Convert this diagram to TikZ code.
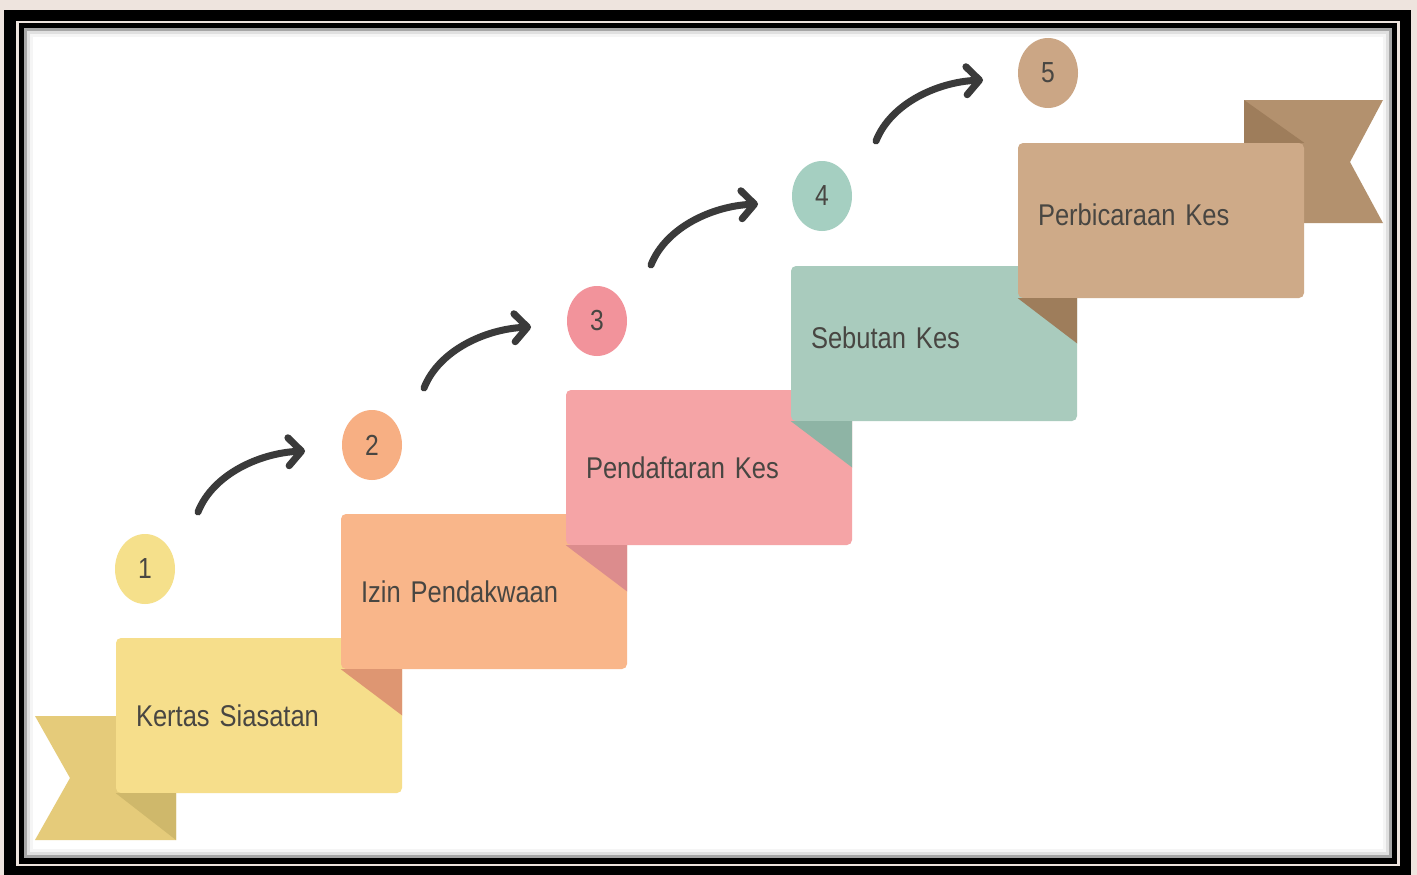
\documentclass[tikz,border=0pt]{standalone}
\usepackage{fontspec}
\setmainfont[FakeStretch=0.85,WordSpace=0.75]{Liberation Sans}
\usetikzlibrary{arrows.meta,positioning,calc,shapes.geometric}
\definecolor{Beige}{RGB}{238,228,222}
\definecolor{TextGrey}{RGB}{72,70,66}
\definecolor{ArrowGrey}{RGB}{58,58,58}
\definecolor{YellowBox}{RGB}{246,222,139}
\definecolor{YellowTail}{RGB}{229,203,122}
\definecolor{YellowFold}{RGB}{207,184,107}
\definecolor{YellowDot}{RGB}{245,224,139}
\definecolor{OrangeBox}{RGB}{249,182,138}
\definecolor{OrangeFold}{RGB}{222,150,114}
\definecolor{OrangeDot}{RGB}{247,175,131}
\definecolor{PinkBox}{RGB}{245,164,166}
\definecolor{PinkFold}{RGB}{220,140,141}
\definecolor{PinkDot}{RGB}{242,147,155}
\definecolor{TealBox}{RGB}{169,203,189}
\definecolor{TealFold}{RGB}{142,180,165}
\definecolor{TealDot}{RGB}{165,207,193}
\definecolor{TanBox}{RGB}{206,170,136}
\definecolor{TanTail}{RGB}{179,145,110}
\definecolor{TanFold}{RGB}{158,125,91}
\definecolor{TanDot}{RGB}{203,166,133}
\tikzset{
  stepbox/.style={rectangle,rounded corners=5pt,minimum height=155pt,text width=246pt,inner xsep=20pt,inner ysep=0pt,align=left,text=TextGrey,font=\fontsize{30}{32}\selectfont},
  highstep/.style={stepbox,text depth=12pt},
  numdot/.style={ellipse,minimum width=60pt,minimum height=70pt,inner sep=0pt,text=TextGrey,font=\fontsize{29}{30}\selectfont},
  curvearrow/.style={-{Straight Barb[length=13pt,width=28pt,round]},line width=7pt,line cap=round,draw=ArrowGrey}
}
\begin{document}
\begin{tikzpicture}[x=1pt,y=-1pt]
  \useasboundingbox (0,0) rectangle (1417,875);
  % frame
  \fill[Beige] (0,0) rectangle (1417,875);
  \fill[black] (4,10) rectangle (1411,875);
  \draw[Beige,line width=2.5pt] (17.5,22) rectangle (1398.5,865);
  \fill[white] (24,28) rectangle (1392,858);
  \draw[black!35,line width=3pt] (25.5,29.5) rectangle (1390.5,856.5);
  \draw[black!12,line width=3pt] (28.5,32.5) rectangle (1387.5,853.5);
  \draw[black!4,line width=3pt] (31.5,35.5) rectangle (1384.5,850.5);
  % ribbon tails
  \coordinate (tailA) at (176,840);
  \coordinate (tailB) at (1244,100);
  \fill[YellowTail] (35,716) -- (176,716) -- (tailA) -- (35,840) -- (70,778) -- cycle;
  \fill[TanTail] (tailB) -- (1383,100) -- (1350,162) -- (1383,223) -- (1244,223) -- cycle;
  % steps
  \node[stepbox,fill=YellowBox] (kertas) at (259,715.5) {Kertas Siasatan};
  \fill[YellowFold] (kertas.south west) -- (kertas.south west -| tailA) -- (tailA) -- cycle;
  \node[stepbox,fill=OrangeBox] (izin) at (484,591.5) {Izin Pendakwaan};
  \fill[OrangeFold] (izin.south west) -- (izin.south -| kertas.east) -- (kertas.east) -- cycle;
  \node[stepbox,fill=PinkBox] (daftar) at (709,467.5) {Pendaftaran Kes};
  \fill[PinkFold] (daftar.south west) -- (daftar.south -| izin.east) -- (izin.east) -- cycle;
  \node[highstep,fill=TealBox] (sebutan) at (934,343.5) {Sebutan Kes};
  \fill[TealFold] (sebutan.south west) -- (sebutan.south -| daftar.east) -- (daftar.east) -- cycle;
  \node[highstep,fill=TanBox] (bicara) at (1161,220.5) {Perbicaraan Kes};
  \fill[TanFold] (bicara.south west) -- (bicara.south -| sebutan.east) -- (sebutan.east) -- cycle;
  \fill[TanFold] (tailB) -- (bicara.north east) -- (bicara.north east -| tailB) -- cycle;
  % numbers
  \node[numdot,fill=YellowDot] (num1) at (145,569) {1};
  \node[numdot,fill=OrangeDot] (num2) at (372,445) {2};
  \node[numdot,fill=PinkDot] (num3) at (597,321) {3};
  \node[numdot,fill=TealDot] (num4) at (822,196) {4};
  \node[numdot,fill=TanDot] (num5) at (1048,73) {5};
  % arrows
  \foreach \i/\sx/\sy in {1/198/512,2/424/388,3/651/265,4/876/141}{
    \coordinate (s\i) at (\sx,\sy);
    \coordinate (e\i) at ($(s\i)+(107,-61)$);
    \draw[curvearrow] (s\i) .. controls +(15,-38) and +(-45,2) .. (e\i);
  }
\end{tikzpicture}
\end{document}
